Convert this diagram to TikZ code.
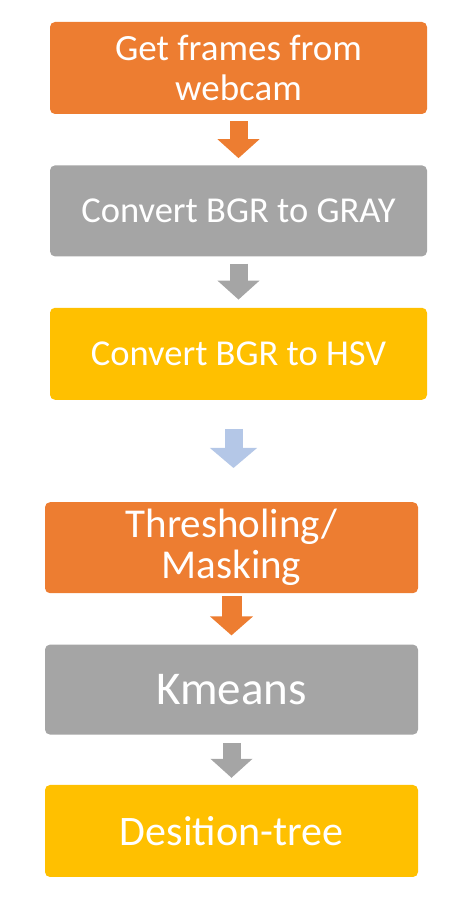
\documentclass[tikz,border=0pt]{standalone}
\usepackage{fontspec}
\setmainfont{Carlito}
\usetikzlibrary{arrows.meta,positioning}
\definecolor{boxorange}{HTML}{ED7D31}
\definecolor{boxgray}{HTML}{A5A5A5}
\definecolor{boxgold}{HTML}{FFC000}
\definecolor{arrblue}{HTML}{B4C7E7}
\tikzset{box/.style={rectangle, rounded corners=5pt, minimum width=377pt,
           minimum height=92pt, inner sep=0pt, text=white, align=center},
         blockarr/.style={#1, line width=18pt,
           -{Triangle[width=41pt, length=19pt]}}}

\begin{document}
\begin{tikzpicture}[node distance=51pt]
	\useasboundingbox (0,0) rectangle (473pt,915pt);

	\node[box, fill=boxorange, font=\fontsize{37}{40}\selectfont] (frames) at (238.5pt,847pt)
	  {Get frames from\\webcam};
	\node[box, fill=boxgray, minimum height=91pt, font=\fontsize{36.5}{40}\selectfont] (gray)
	  [below=of frames] {Convert BGR to GRAY};
	\node[box, fill=boxgold, font=\fontsize{36.5}{40}\selectfont] (hsv)
	  [below=of gray] {Convert BGR to HSV};
	\node[box, fill=boxorange, minimum width=373pt, minimum height=91pt,
	      font=\fontsize{41}{41}\selectfont] (thresh)
	  [below=102pt of hsv, xshift=-7pt] {Thresholing/\\Masking};
	\node[box, fill=boxgray, minimum width=373pt, minimum height=90pt,
	      font=\fontsize{47}{50}\selectfont] (kmeans)
	  [below=of thresh] {Kmeans};
	\node[box, fill=boxgold, minimum width=373pt, font=\fontsize{42}{45}\selectfont] (tree)
	  [below=50pt of kmeans] {Desition-tree};

	% block arrows between the steps
	\draw[blockarr=boxorange, shorten <=7pt, shorten >=7pt] (frames) -- (gray);
	\draw[blockarr=boxgray, shorten <=7pt, shorten >=8pt] (gray) -- (hsv);
	\draw[blockarr=arrblue, -{Triangle[width=46pt, length=20pt]},
	      shorten <=29pt, shorten >=34pt]
	  ([xshift=-5pt]hsv.south) -- ([xshift=-5pt]hsv.south |- thresh.north);
	\draw[blockarr=boxorange, line width=20pt, -{Triangle[width=42pt, length=19pt]},
	      shorten <=3pt, shorten >=9pt] (thresh) -- (kmeans);
	\draw[blockarr=boxgray, shorten <=8pt, shorten >=7pt] (kmeans) -- (tree);
\end{tikzpicture}
\end{document}
